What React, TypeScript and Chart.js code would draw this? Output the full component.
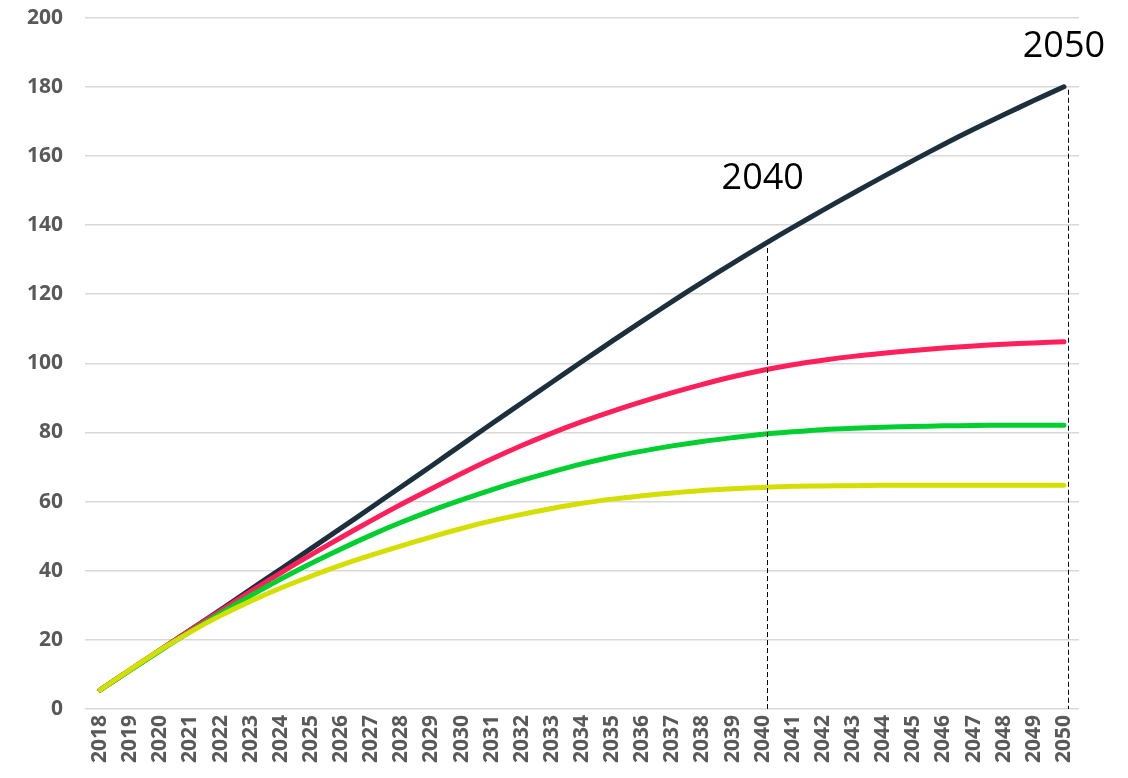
import React, { useEffect, useRef } from "react";
import { Chart, registerables } from "chart.js";

Chart.register(...registerables);

const years: string[] = [];
for (let y = 2018; y <= 2050; y++) years.push(String(y));

const blackSeries = [5.5, 11.3, 17.1, 22.9, 28.7, 34.6, 40.5, 46.4, 52.3, 58.3, 64.3, 70.3, 76.4, 82.5, 88.5, 94.5, 100.5, 106.4, 112.2, 117.9, 123.5, 128.9, 134.2, 139.3, 144.3, 149.2, 154.0, 158.7, 163.3, 167.7, 171.9, 176.0, 180.0];
const pinkSeries = [5.5, 11.3, 17.1, 22.8, 28.4, 34.0, 39.4, 44.6, 49.6, 54.5, 59.2, 63.7, 68.1, 72.3, 76.2, 79.8, 83.1, 86.1, 88.9, 91.5, 93.9, 96.1, 98.0, 99.6, 100.9, 102.0, 102.9, 103.7, 104.4, 105.0, 105.5, 105.9, 106.2];
const greenSeries = [5.5, 11.2, 16.9, 22.4, 27.7, 32.8, 37.6, 42.1, 46.3, 50.3, 54.0, 57.4, 60.5, 63.4, 66.1, 68.6, 70.9, 72.9, 74.6, 76.1, 77.4, 78.5, 79.5, 80.2, 80.8, 81.2, 81.5, 81.7, 81.9, 82.0, 82.1, 82.1, 82.1];
const yellowSeries = [5.5, 11.4, 17.1, 22.3, 27.0, 31.2, 35.0, 38.4, 41.6, 44.5, 47.2, 49.8, 52.2, 54.4, 56.3, 58.0, 59.5, 60.7, 61.7, 62.5, 63.2, 63.7, 64.1, 64.4, 64.5, 64.6, 64.7, 64.7, 64.7, 64.7, 64.7, 64.7, 64.7];

const markerYears = ["2040", "2050"];

const annotationPlugin = {
  id: "yearMarkers",
  afterDatasetsDraw(chart: any) {
    const ctx = chart.ctx;
    const xs = chart.scales.x;
    const ys = chart.scales.y;
    ctx.save();
    markerYears.forEach((yr, i) => {
      const idx = years.indexOf(yr);
      const px = xs.getPixelForValue(idx);
      const py = ys.getPixelForValue(blackSeries[idx]);
      const bottom = ys.getPixelForValue(0);
      const lx = Math.round(px + 4) + 0.5;
      ctx.beginPath();
      ctx.setLineDash([5, 3]);
      ctx.strokeStyle = "#000000";
      ctx.lineWidth = 1;
      ctx.moveTo(lx, py + 3);
      ctx.lineTo(lx, bottom);
      ctx.stroke();
      ctx.setLineDash([]);
      ctx.fillStyle = "#000000";
      ctx.font = "36px 'Open Sans'";
      ctx.textAlign = "center";
      ctx.textBaseline = "alphabetic";
      const dy = i === 0 ? 56 : 30;
      ctx.fillText(yr, px, py - dy);
    });
    ctx.restore();
  },
};

export default function App() {
  const ref = useRef<HTMLCanvasElement | null>(null);
  useEffect(() => {
    if (!ref.current) return;
    const mk = (data: number[], color: string) => ({
      data,
      borderColor: color,
      backgroundColor: color,
      borderWidth: 5,
      pointRadius: 0,
      tension: 0.3,
      borderCapStyle: "round" as const,
      borderJoinStyle: "round" as const,
      fill: false,
    });
    const chart = new Chart(ref.current, {
      type: "line",
      data: {
        labels: years,
        datasets: [
          mk(yellowSeries, "#d4df00"),
          mk(greenSeries, "#00cf30"),
          mk(pinkSeries, "#ff1f5b"),
          mk(blackSeries, "#1c2f3d"),
        ],
      },
      options: {
        animation: false,
        responsive: true,
        maintainAspectRatio: false,
        layout: { padding: { left: 5, right: 49, top: 4, bottom: 4 } },
        plugins: { legend: { display: false }, tooltip: { enabled: false } },
        scales: {
          x: {
            offset: true,
            grid: { display: false, drawTicks: false },
            border: { display: false },
            ticks: {
              autoSkip: false,
              maxRotation: 90,
              minRotation: 90,
              padding: 6,
              color: "#595959",
              font: { family: "'Open Sans'", size: 21, weight: "bold" },
            },
          },
          y: {
            min: 0,
            max: 200,
            ticks: {
              stepSize: 20,
              padding: 22,
              color: "#595959",
              font: { family: "'Open Sans'", size: 21, weight: "bold" },
            },
            grid: { color: "#d9d9d9", lineWidth: 1.5, drawTicks: false },
            border: { display: false },
          },
        },
      },
      plugins: [annotationPlugin],
    });
    return () => chart.destroy();
  }, []);
  return (
    <div style={{ position: "fixed", left: 0, top: 0, width: 1128, height: 778, overflow: "hidden", background: "#fff" }}>
      <div style={{ position: "absolute", left: 0, top: -17, width: 1128, height: 790 }}>
        <canvas ref={ref} />
      </div>
    </div>
  );
}
